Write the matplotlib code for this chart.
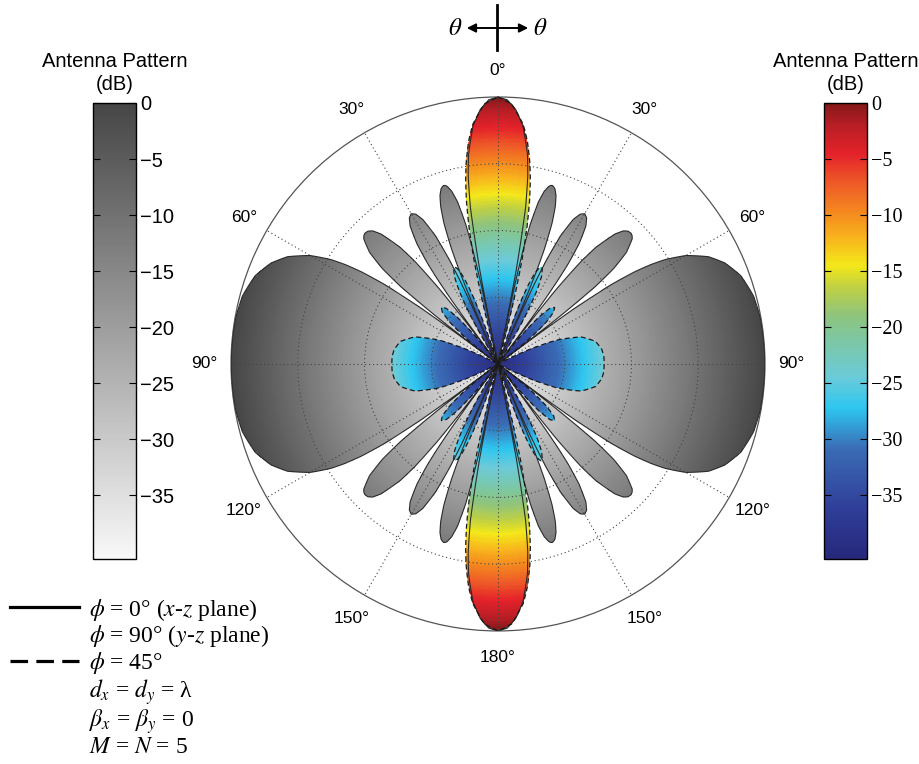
import matplotlib
matplotlib.use("Agg")
import matplotlib.pyplot as plt
import numpy as np
from matplotlib.path import Path
from matplotlib.patches import PathPatch, FancyArrowPatch
from matplotlib.lines import Line2D
from matplotlib.colors import LinearSegmentedColormap, Normalize
from matplotlib.cm import ScalarMappable

plt.rcParams["font.family"] = ["Liberation Sans", "DejaVu Sans"]
plt.rcParams["mathtext.fontset"] = "stix"

# pattern cuts, one quadrant each (theta 0..90 deg, gain in dB);
# the other three quadrants are mirror images
theta_xz = [0, 2, 4, 6, 8, 9, 10, 11, 11.3, 11.54,
            12, 12.5, 13, 14, 15, 16, 16.5, 17, 17.5, 18, 19, 20, 21, 22, 22.5, 23, 23.58,
            24, 24.5, 25, 26, 27.5, 28.75, 30, 31.25, 32.5, 34, 35, 35.5, 36, 36.87,
            37.5, 38, 39, 40, 42, 43.3, 44.4, 45.5, 46.3, 47, 49, 50.5, 51.5, 52.5, 53.13,
            53.5, 54, 55, 56, 57, 58, 60, 63, 66, 70, 75, 80, 90]
gain_xz = [0, -0.4, -1.8, -4.2, -8.3, -11.5, -16.2, -25.9, -33.1, -40,
           -27.8, -21.8, -18.6, -15.0, -13.2, -12.3, -12.1, -12.05, -12.2, -12.4, -13.3, -14.9, -17.4,
           -21.5, -24.8, -30.2, -40,
           -33.1, -26.5, -22.9, -18.7, -15.6, -14.4, -14.0, -14.4, -15.5, -18.3, -21.6, -24.2, -28.0, -40,
           -30.7, -25.7, -20.3, -17.2, -13.8, -12.6, -12.15, -12.05, -12.2, -12.5, -14.5, -17.6, -21.4,
           -29.2, -40,
           -33.6, -26.1, -19.2, -15.3, -12.6, -10.5, -7.5, -4.6, -2.8, -1.3, -0.4, -0.1, 0]

theta_45 = [0, 3, 6, 7.5, 9, 10, 11, 12, 13, 14, 14.5, 15,
            18, 18.5, 19, 20, 21, 22, 23, 24, 25, 26.5, 28, 29, 30, 31, 31.5,
            37.5, 38, 39, 41, 43, 45, 47, 49, 51, 53, 53.7,
            63, 64, 65, 68, 72, 77, 82, 86, 90]
gain_45 = [0, -1.0, -3.9, -6.3, -9.5, -12.1, -15.3, -19.2, -24.1, -30.6, -34.9, -40,
           -40, -37.5, -34.4, -30.0, -27.3, -25.5, -24.5, -24.1, -24.3, -25.4, -27.7, -30.0, -33.1, -37.3, -40,
           -40, -38.7, -35.2, -30.8, -28.6, -28.0, -28.6, -30.4, -33.6, -38.8, -40,
           -40, -37.4, -35.1, -30.4, -26.9, -25.0, -24.3, -24.1, -24.1]

db_min, db_max = -40, 0
cbar_min = -40.7
cbar_ticks = [0, -5, -10, -15, -20, -25, -30, -35]
ring_ticks = [-30, -20, -10]
angle_ticks = [0, 30, 60, 90, 120, 150, 180, 210, 240, 270, 300, 330]
angle_labels = ["0°", "30°", "60°", "90°", "120°", "150°", "180°",
                "150°", "120°", "90°", "60°", "30°"]
legend_labels = [r"$\phi$ = 0° ($x$-$z$ plane)",
                 r"$\phi$ = 90° ($y$-$z$ plane)",
                 r"$\phi$ = 45°",
                 r"$d_x$ = $d_y$ = λ",
                 r"$\beta_x$ = $\beta_y$ = 0",
                 r"$M$ = $N$ = 5"]

gray_cmap = LinearSegmentedColormap.from_list("pat_gray", ["#f8f8f9", "#464646"])
jet_cmap = LinearSegmentedColormap.from_list("pat_jet", [
    (0.0, "#26287a"), (0.115, "#30409a"), (0.24, "#3a6bb4"), (0.33, "#2ec6f0"),
    (0.40, "#6ccbd8"), (0.48, "#7cc7a4"), (0.535, "#8fc47c"), (0.595, "#bfd044"),
    (0.645, "#f4e81a"), (0.705, "#f8b41d"), (0.765, "#f4861f"), (0.83, "#ee5628"),
    (0.89, "#e4222a"), (0.95, "#bb1e26"), (1.0, "#861818")])
norm = Normalize(cbar_min, 0)


def full_turn(theta_q, gain_q):
    t = np.asarray(theta_q, float)
    g = np.asarray(gain_q, float)
    t = np.concatenate([t, 180 - t[::-1][1:]])
    g = np.concatenate([g, g[::-1][1:]])
    t = np.concatenate([t, 360 - t[::-1][1:]])
    g = np.concatenate([g, g[::-1][1:]])
    return np.radians(t), g


def pattern_patch(theta_q, gain_q, **kw):
    th, g = full_turn(theta_q, gain_q)
    verts = np.column_stack([th, g])
    verts = np.vstack([verts, verts[:1]])
    path = Path(verts, closed=True, _interpolation_steps=12)
    return PathPatch(path, transform=ax.transData, **kw)


fig = plt.figure(figsize=(9.2, 7.64), dpi=100)
ax = fig.add_axes([0.2511, 0.1741, 0.5804, 0.699], projection="polar")
ax.set_theta_zero_location("N")
ax.set_theta_direction(-1)
ax.set_rlim(db_min, db_max)

# radial colour gradient, clipped to each pattern
th_edges = np.linspace(0, 2 * np.pi, 181)
r_edges = np.linspace(db_min, db_max, 161)
r_mid = 0.5 * (r_edges[:-1] + r_edges[1:])
shade = np.repeat(r_mid[:, None], len(th_edges) - 1, axis=1)

xz_line = pattern_patch(theta_xz, gain_xz, facecolor="none", edgecolor="#2b2b2b",
                        linewidth=0.8, zorder=3)
d45_line = pattern_patch(theta_45, gain_45, facecolor="none", edgecolor="#1a1a1a",
                         linewidth=0.9, linestyle=(0, (4, 2.5)), zorder=3.1)

mesh_xz = ax.pcolormesh(th_edges, r_edges, shade, cmap=gray_cmap, norm=norm,
                        shading="flat", zorder=1)
mesh_xz.set_clip_path(pattern_patch(theta_xz, gain_xz))
mesh_45 = ax.pcolormesh(th_edges, r_edges, shade, cmap=jet_cmap, norm=norm,
                        shading="flat", zorder=1.1)
mesh_45.set_clip_path(pattern_patch(theta_45, gain_45))
ax.add_patch(xz_line)
ax.add_patch(d45_line)

ax.set_xticks(np.radians(angle_ticks))
ax.set_xticklabels(angle_labels, fontsize=12.5)
ax.tick_params(axis="x", pad=12, length=0)
ax.set_yticks(ring_ticks)
ax.set_yticklabels([])
ax.grid(True, color="#444444", linestyle=(0, (1, 2.5)), linewidth=0.8)
ax.set_axisbelow(False)
ax.spines["polar"].set(color="#555555", linewidth=0.9, zorder=0.5)
ax.set_rlim(db_min, db_max)

# colour bars
cax_l = fig.add_axes([93 / 920, 1 - 559 / 764, 43 / 920, 456 / 764])
cb_l = fig.colorbar(ScalarMappable(norm=norm, cmap=gray_cmap), cax=cax_l, ticks=cbar_ticks)
cax_r = fig.add_axes([824 / 920, 1 - 559 / 764, 43 / 920, 456 / 764])
cb_r = fig.colorbar(ScalarMappable(norm=norm, cmap=jet_cmap), cax=cax_r, ticks=cbar_ticks)
for cax, cb, fam in [(cax_l, cb_l, "Liberation Sans"), (cax_r, cb_r, "Liberation Serif")]:
    cax.tick_params(direction="in", left=True, right=True, labelleft=False,
                    labelright=True, length=5, width=0.8, labelsize=14.5, pad=3,
                    labelfontfamily=fam)
    cax.minorticks_off()
    cb.outline.set_linewidth(1.0)
    cax.set_title("Antenna Pattern\n(dB)", fontsize=14.5, pad=9, linespacing=1.3)

# legend
handles = [Line2D([], [], color="k", lw=2.3),
           Line2D([], [], color="none"),
           Line2D([], [], color="k", lw=2.3, linestyle=(0, (5.5, 2.6))),
           Line2D([], [], color="none"),
           Line2D([], [], color="none"),
           Line2D([], [], color="none")]
fig.legend(handles, legend_labels, loc="upper left", bbox_to_anchor=(0.011, 0.219),
           frameon=False, prop={"family": "Liberation Serif", "size": 17},
           handlelength=2.9, handletextpad=0.42, labelspacing=0.03,
           borderpad=0, borderaxespad=0)

# theta direction marker
fig.add_artist(Line2D([497 / 920, 497 / 920], [1 - 5 / 764, 1 - 50 / 764],
                      transform=fig.transFigure, color="k", lw=2))
fig.add_artist(FancyArrowPatch((464 / 920, 1 - 28 / 764), (531 / 920, 1 - 28 / 764),
                               transform=fig.transFigure, arrowstyle="<|-|>",
                               mutation_scale=13, color="k", lw=1.4))
fig.text(455 / 920, 1 - 28 / 764, r"$\theta$", ha="center", va="center", fontsize=18)
fig.text(540 / 920, 1 - 28 / 764, r"$\theta$", ha="center", va="center", fontsize=18)

fig.savefig("out.png", dpi=100)
